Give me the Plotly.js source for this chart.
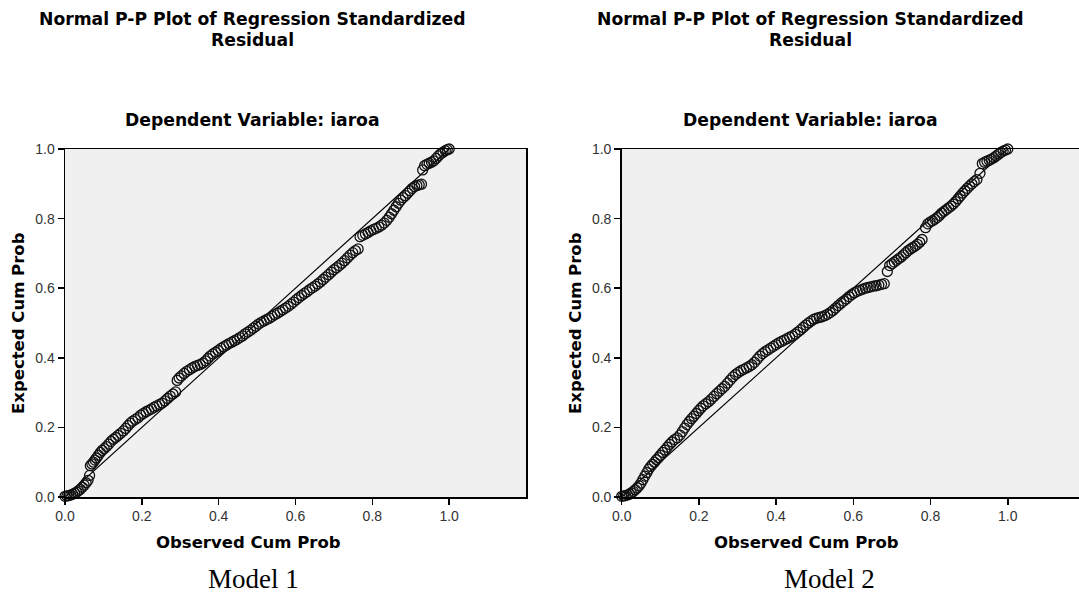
<!DOCTYPE html>
<html>
<head>
<meta charset="utf-8">
<script src="https://cdn.plot.ly/plotly-3.0.1.min.js"></script>
<style>
html, body { margin: 0; padding: 0; background: #ffffff; overflow: hidden; }
#wrap { width: 1079px; height: 597px; overflow: hidden; }
#chart { width: 1100px; height: 597px; }
</style>
</head>
<body>
<div id="wrap"><div id="chart"></div></div>
<script>
// ---------- data ----------
const chartTitle = "Normal P-P Plot of Regression Standardized";
const chartTitle2 = "Residual";
const subTitle = "Dependent Variable: iaroa";
const xTitle = "Observed Cum Prob";
const yTitle = "Expected Cum Prob";
const modelLabels = ["Model 1", "Model 2"];
const tickValues = [0.0, 0.2, 0.4, 0.6, 0.8, 1.0];
const refLine = [0, 1];

const obs1 = [0.000,0.005,0.010,0.015,0.020,0.025,0.030,0.035,0.040,0.045,0.050,0.055,0.060,0.064,
0.066,0.070,0.074,0.078,0.082,0.087,0.092,0.097,0.102,0.108,0.114,0.120,0.126,0.132,0.138,0.145,
0.152,0.158,0.164,0.170,0.176,0.183,0.190,0.197,0.204,0.211,0.218,0.225,0.232,0.239,0.246,0.253,
0.260,0.267,0.274,0.281,0.288,0.292,0.297,0.303,0.310,0.317,0.324,0.331,0.338,0.345,0.352,0.359,
0.366,0.372,0.378,0.385,0.392,0.399,0.406,0.413,0.420,0.427,0.434,0.441,0.448,0.455,0.462,0.469,
0.476,0.483,0.490,0.497,0.504,0.511,0.518,0.525,0.532,0.539,0.546,0.553,0.560,0.567,0.574,0.581,
0.588,0.595,0.602,0.609,0.616,0.623,0.630,0.637,0.644,0.651,0.658,0.665,0.672,0.679,0.686,0.693,
0.700,0.707,0.714,0.721,0.728,0.735,0.742,0.749,0.756,0.763,0.768,0.775,0.782,0.789,0.796,0.803,
0.810,0.817,0.824,0.831,0.838,0.844,0.850,0.856,0.862,0.868,0.874,0.880,0.886,0.892,0.898,0.904,
0.910,0.916,0.922,0.928,0.931,0.936,0.942,0.948,0.954,0.960,0.966,0.972,0.978,0.984,0.990,0.995,1.000];
const exp1 = [0.002,0.003,0.004,0.006,0.008,0.011,0.014,0.018,0.022,0.028,0.034,0.041,0.048,0.062,
0.090,0.095,0.100,0.106,0.112,0.120,0.128,0.134,0.139,0.145,0.152,0.160,0.166,0.171,0.177,0.183,
0.190,0.197,0.205,0.212,0.218,0.223,0.228,0.235,0.240,0.245,0.249,0.253,0.258,0.262,0.266,0.270,
0.276,0.283,0.290,0.296,0.302,0.335,0.342,0.348,0.355,0.361,0.366,0.371,0.375,0.378,0.381,0.385,
0.391,0.398,0.405,0.411,0.416,0.421,0.427,0.432,0.436,0.441,0.445,0.449,0.453,0.458,0.463,0.469,
0.474,0.479,0.485,0.491,0.497,0.502,0.506,0.510,0.514,0.519,0.524,0.528,0.533,0.538,0.543,0.548,
0.554,0.560,0.567,0.573,0.579,0.585,0.590,0.596,0.601,0.606,0.612,0.618,0.625,0.632,0.639,0.646,
0.653,0.659,0.665,0.672,0.679,0.687,0.695,0.702,0.708,0.713,0.748,0.752,0.756,0.760,0.765,0.769,
0.772,0.776,0.781,0.787,0.795,0.804,0.814,0.824,0.834,0.844,0.853,0.860,0.866,0.873,0.880,0.887,
0.892,0.895,0.897,0.899,0.940,0.952,0.956,0.959,0.962,0.966,0.973,0.980,0.986,0.991,0.995,0.998,1.000];

const obs2 = [0.000,0.005,0.010,0.015,0.020,0.025,0.030,0.035,0.040,0.045,0.050,0.055,0.060,0.065,
0.070,0.075,0.080,0.085,0.090,0.095,0.100,0.106,0.112,0.118,0.124,0.130,0.137,0.144,0.151,0.157,
0.163,0.169,0.175,0.181,0.187,0.193,0.199,0.205,0.211,0.218,0.225,0.232,0.239,0.246,0.253,0.260,
0.267,0.274,0.281,0.288,0.295,0.302,0.309,0.316,0.323,0.330,0.337,0.344,0.351,0.358,0.365,0.372,
0.379,0.386,0.393,0.400,0.407,0.414,0.421,0.428,0.435,0.442,0.449,0.456,0.463,0.470,0.477,0.484,
0.491,0.498,0.505,0.512,0.519,0.526,0.533,0.540,0.547,0.554,0.561,0.568,0.575,0.582,0.589,0.596,
0.603,0.610,0.617,0.624,0.631,0.638,0.645,0.652,0.659,0.666,0.673,0.680,0.688,0.694,0.700,0.706,
0.712,0.718,0.724,0.730,0.736,0.742,0.748,0.754,0.760,0.766,0.772,0.778,0.787,0.793,0.799,0.805,
0.811,0.817,0.823,0.829,0.835,0.841,0.847,0.853,0.859,0.865,0.871,0.877,0.883,0.889,0.895,0.901,
0.907,0.913,0.920,0.928,0.934,0.940,0.946,0.952,0.958,0.964,0.970,0.976,0.982,0.988,0.994,1.000];
const exp2 = [0.002,0.003,0.004,0.006,0.008,0.012,0.016,0.021,0.026,0.032,0.040,0.050,0.060,0.070,
0.080,0.088,0.094,0.100,0.107,0.113,0.120,0.128,0.135,0.143,0.151,0.158,0.165,0.170,0.178,0.188,
0.198,0.208,0.217,0.225,0.232,0.240,0.248,0.255,0.262,0.268,0.274,0.281,0.289,0.297,0.304,0.311,
0.318,0.327,0.336,0.345,0.352,0.358,0.363,0.367,0.371,0.375,0.380,0.387,0.396,0.405,0.412,0.418,
0.423,0.428,0.433,0.438,0.443,0.447,0.451,0.455,0.459,0.463,0.468,0.474,0.480,0.487,0.494,0.500,
0.506,0.511,0.514,0.516,0.518,0.521,0.525,0.530,0.536,0.543,0.550,0.557,0.563,0.569,0.576,0.582,
0.587,0.591,0.594,0.597,0.600,0.602,0.604,0.606,0.607,0.609,0.611,0.613,0.648,0.665,0.670,0.675,
0.680,0.685,0.690,0.696,0.702,0.708,0.713,0.717,0.721,0.726,0.732,0.740,0.774,0.785,0.790,0.794,
0.798,0.803,0.809,0.816,0.821,0.826,0.831,0.836,0.842,0.849,0.857,0.865,0.873,0.880,0.887,0.894,
0.900,0.906,0.912,0.930,0.958,0.962,0.965,0.968,0.971,0.975,0.980,0.985,0.990,0.994,0.997,1.000];

// ---------- layout helpers ----------
const W = 1100, H = 597;
const px = v => v / W;
const py = v => 1 - v / H;

const boldFont = {family: "DejaVu Sans, Arial, sans-serif", size: 16.5, color: "#000", weight: "bold"};
const titleFont = Object.assign({}, boldFont, {size: 17.2});
const tickFont = {family: "Liberation Sans, Arial, sans-serif", size: 14, color: "#333"};

function axisX(domain) {
  return {
    domain: domain, range: [0, 1.2], tickvals: tickValues, tickformat: ".1f",
    showgrid: false, zeroline: false, showline: true, mirror: true,
    linecolor: "#000", linewidth: 1.5, ticks: "outside", ticklen: 6, tickwidth: 1.5,
    tickcolor: "#000", tickfont: tickFont, fixedrange: true
  };
}
function axisY(domain, anchor) {
  return {
    domain: domain, range: [0, 1], tickvals: tickValues, tickformat: ".1f",
    showgrid: false, zeroline: false, showline: true, mirror: true,
    linecolor: "#000", linewidth: 1.5, ticks: "outside", ticklen: 6, tickwidth: 1.5,
    tickcolor: "#000", tickfont: tickFont, anchor: anchor, fixedrange: true
  };
}

const yDom = [py(497), py(149)];

function pointsTrace(xs, ys, xa, ya) {
  return {
    x: xs, y: ys, xaxis: xa, yaxis: ya, type: "scatter", mode: "markers",
    cliponaxis: false, hoverinfo: "skip", showlegend: false,
    marker: {symbol: "circle-open", size: 10, color: "#111", line: {width: 1.3, color: "#111"}}
  };
}
function lineTrace(xa, ya) {
  return {
    x: refLine, y: refLine, xaxis: xa, yaxis: ya, type: "scatter", mode: "lines",
    hoverinfo: "skip", showlegend: false, line: {color: "#000", width: 1.2}
  };
}

const data = [
  lineTrace("x", "y"), pointsTrace(obs1, exp1, "x", "y"),
  lineTrace("x2", "y2"), pointsTrace(obs2, exp2, "x2", "y2")
];

function ann(text, x, y, font, extra) {
  return Object.assign({text: text, x: px(x), y: py(y), xref: "paper", yref: "paper",
    xanchor: "center", yanchor: "middle", showarrow: false, font: font}, extra || {});
}

const centers = [252, 810];
const xTitleCenters = [249, 806];
const yTitleX = [18, 575];
const modelCenters = [253, 829];
const annotations = [];
for (let i = 0; i < 2; i++) {
  annotations.push(ann(chartTitle, centers[i], 19, titleFont));
  annotations.push(ann(chartTitle2, centers[i], 40, titleFont));
  annotations.push(ann(subTitle, centers[i], 120, titleFont));
  annotations.push(ann(xTitle, xTitleCenters[i], 542, boldFont));
  annotations.push(ann(yTitle, yTitleX[i], 323, boldFont, {textangle: -90}));
  annotations.push(ann(modelLabels[i], modelCenters[i], 579,
    {family: "Liberation Serif, Times New Roman, serif", size: 27, color: "#000"}));
}

const layout = {
  width: W, height: H,
  margin: {l: 0, r: 0, t: 0, b: 0, pad: 0},
  paper_bgcolor: "#ffffff", plot_bgcolor: "#f0f0f0",
  showlegend: false,
  xaxis: axisX([px(65), px(526)]),
  yaxis: axisY(yDom, "x"),
  xaxis2: axisX([px(621.7), px(1085)]),
  yaxis2: axisY(yDom, "x2"),
  annotations: annotations
};
layout.xaxis.anchor = "y";
layout.xaxis2.anchor = "y2";

Plotly.newPlot("chart", data, layout, {staticPlot: true, displayModeBar: false});
</script>
</body>
</html>
